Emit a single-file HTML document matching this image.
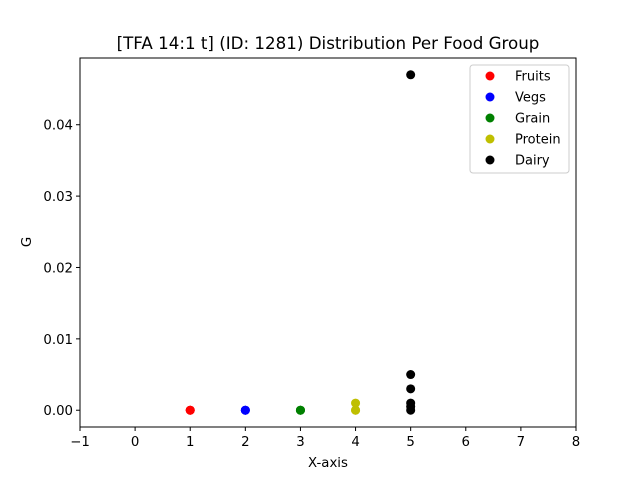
<!DOCTYPE html>
<html><head><meta charset="utf-8"><style>
body{margin:0;background:#fff;}
svg text{font-family:"DejaVu Sans","Liberation Sans",sans-serif;}
</style></head><body>
<svg id="chart" width="640" height="480" xmlns="http://www.w3.org/2000/svg">
<rect width="640" height="480" fill="#fff"/>
<text x="328" y="49" font-size="16.7" text-anchor="middle">[TFA 14:1 t] (ID: 1281) Distribution Per Food Group</text>
<g id="axes"></g>
<g id="marks"></g>
<rect x="80" y="58" width="496" height="369" fill="none" stroke="#000" stroke-width="1"/>
<text x="328" y="467" font-size="13.3" text-anchor="middle">X-axis</text>
<text x="31" y="242" font-size="13.3" text-anchor="middle" transform="rotate(-90 31 242)">G</text>
<g id="legend"></g>
</svg>
<script>
const groups=["Fruits","Vegs","Grain","Protein","Dairy"];
const colors=["#ff0000","#0000ff","#008000","#bfbf00","#000000"];
const xPositions=[1,2,3,4,5];
const fruitsVals=[0,0,0];
const vegsVals=[0,0,0];
const grainVals=[0,0,0];
const proteinVals=[0,0,0.001];
const dairyVals=[0,0.0005,0.001,0.003,0.005,0.047];
const xTicks=[-1,0,1,2,3,4,5,6,7,8];
const yTicks=[0,0.01,0.02,0.03,0.04];
const yTickLabels=["0.00","0.01","0.02","0.03","0.04"];
const NS="http://www.w3.org/2000/svg";
const L=80,R=576,T=58,B=427,xMin=-1,xMax=8,yMin=-0.00235,yMax=0.04935;
function xs(v){return L+(v-xMin)/(xMax-xMin)*(R-L);}
function ys(v){return B-(v-yMin)/(yMax-yMin)*(B-T);}
function mk(tag,attrs,parent){const e=document.createElementNS(NS,tag);for(const k in attrs)e.setAttribute(k,attrs[k]);parent.appendChild(e);return e;}
const ax=document.getElementById('axes');
xTicks.forEach(t=>{const x=xs(t);
const l=mk('line',{x1:x,x2:x,y1:B,y2:B+4,stroke:'#000'},ax);


const tx=mk('text',{x:x,y:B+19,'font-size':13.3,'text-anchor':'middle'},ax);tx.textContent=(t<0?"\u2212"+(-t):t);

});
yTicks.forEach((t,i)=>{const y=ys(t);
const l=mk('line',{x1:L-4,x2:L,y1:y,y2:y,stroke:'#000'},ax);


const tx=mk('text',{x:L-7,y:y+5,'font-size':13.3,'text-anchor':'end'},ax);tx.textContent=yTickLabels[i];

});
const series=[fruitsVals,vegsVals,grainVals,proteinVals,dairyVals];
const mg=document.getElementById('marks');
series.forEach((vals,gi)=>{vals.forEach(v=>{
const c=mk('circle',{cx:xs(xPositions[gi]),cy:ys(v),r:4.5,fill:colors[gi]},mg);

});});
const lg=document.getElementById('legend');
const box=mk('rect',{x:470,y:65,width:99,height:108,rx:3,fill:'#fff',stroke:'#ccc','fill-opacity':0.8},lg);


groups.forEach((g,i)=>{const y=76+i*21;
const c=mk('circle',{cx:490,cy:y,r:4.5,fill:colors[i]},lg);


const t=mk('text',{x:515,y:y+4.5,'font-size':13},lg);t.textContent=g;

});
</script>
</body></html>
